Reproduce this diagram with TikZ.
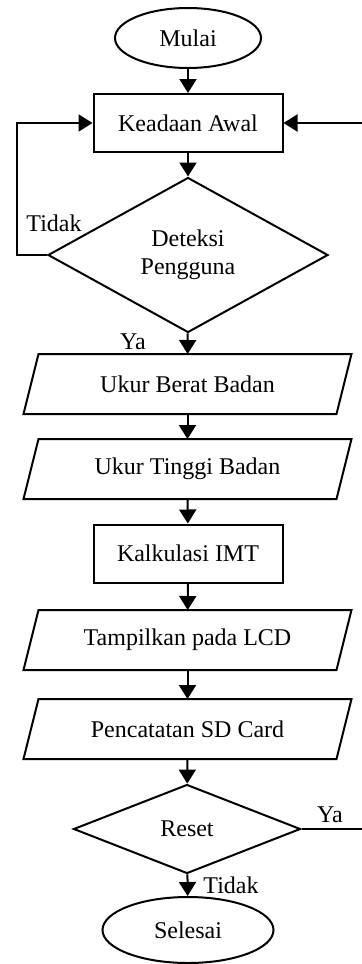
\documentclass[tikz,border=0pt]{standalone}
\usepackage{fontspec}
\setmainfont{Liberation Serif}
\usetikzlibrary{arrows.meta, shapes.geometric}

\begin{document}
\begin{tikzpicture}[x=0.5pt, y=-0.5pt, line width=1pt,
    >={Triangle[width=8.5pt, length=7pt]},
    every node/.style={font=\fontsize{12}{14}\selectfont},
    terminal/.style={ellipse, draw, inner sep=0pt},
    process/.style={rectangle, draw, inner sep=0pt, minimum width=94.5pt, minimum height=29pt},
    io/.style={rectangle, inner sep=0pt, minimum width=155.5pt, minimum height=29pt},
    decision/.style={diamond, draw, inner sep=0pt, align=center}]
\clip (0,0) rectangle (362,964);

\node (mulai) at (188, 38) [terminal, minimum width=73pt, minimum height=30pt] {Mulai};
\node (awal) at (188, 123) [process] {Keadaan Awal};
\node (deteksi) at (188, 255) [decision, minimum width=140pt, minimum height=77.5pt] {Deteksi\\Pengguna};
\node (berat) at (187.5, 384) [io] {Ukur Berat Badan};
\node (tinggi) at (187.5, 469) [io] {Ukur Tinggi Badan};
\node (imt) at (188, 553.5) [process] {Kalkulasi IMT};
\node (lcd) at (187.5, 640) [io] {Tampilkan pada LCD};
\node (sdcard) at (187.5, 729) [io] {Pencatatan SD Card};
\node (reset) at (187, 829) [decision, minimum width=113.5pt, minimum height=44.5pt] {Reset};
\node (selesai) at (188, 930) [terminal, minimum width=85.5pt, minimum height=33pt] {Selesai};

% jajaran genjang input/output
\foreach \n in {berat, tinggi, lcd, sdcard}
    \draw ([xshift=3.75pt]\n.north west) -- ([xshift=3.75pt]\n.north east)
        -- ([xshift=-3.75pt]\n.south east) -- ([xshift=-3.75pt]\n.south west) -- cycle;

% label jalur
\node (tidak1) at (54, 223) {Tidak};
\node (ya1) at (133, 342) {Ya};
\node (ya2) at (330, 815) {Ya};
\node (tidak2) at (231, 885) {Tidak};

\coordinate (kiri) at (17, 255);
\coordinate (kanan) at (372, 829);

\draw [->] (mulai) -- (awal);
\draw [->] (awal) -- (deteksi);
\draw [->] (deteksi) -- (berat);
\draw [->] (berat) -- (tinggi);
\draw [->] (tinggi) -- (imt);
\draw [->] (imt) -- (lcd);
\draw [->] (lcd) -- (sdcard);
\draw [->] (sdcard) -- (reset);
\draw [->] (reset) -- (selesai);
\draw [->] (deteksi.west) -- (kiri) |- (awal.west);
\draw [->] (reset.east) -- (kanan) |- (awal.east);
\end{tikzpicture}
\end{document}
